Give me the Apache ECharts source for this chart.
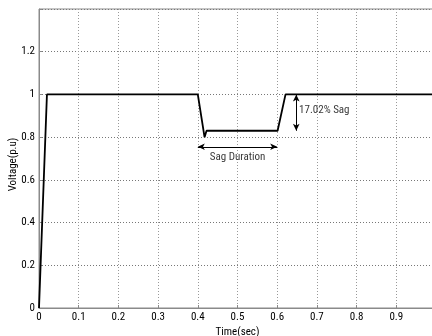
<!DOCTYPE html>
<html>
<head>
<meta charset="utf-8">
<script src="https://cdn.jsdelivr.net/npm/echarts@6/dist/echarts.min.js"></script>
<style>
  html, body { margin: 0; padding: 0; background: #fff; }
  #chart { width: 432px; height: 336px; }
</style>
</head>
<body>
<div id="chart"></div>
<script>
// voltage waveform (time in sec, voltage in p.u)
var timeSec = [0, 0.02, 0.4, 0.417, 0.422, 0.601, 0.621, 1];
var voltage = [0, 1, 1, 0.80, 0.83, 0.83, 1, 1];

// annotations
var sagArrowTime = 0.648;
var sagArrowV = [1, 0.83];
var sagLabel = '17.02% Sag';
var sagLabelPos = [0.655, 0.925];
var durationTime = [0.4, 0.6];
var durationV = 0.755;
var durationLabel = 'Sag Duration';
var durationLabelPos = [0.5, 0.705];

var font = 'Roboto Condensed, Liberation Sans, Arial, sans-serif';

var myChart = echarts.init(document.getElementById('chart'));
myChart.setOption({
    animation: false,
    grid: {
        left: 39, right: -4, top: 9, bottom: 28,
        outerBoundsMode: 'none',
        containLabel: false,
        show: true, borderColor: '#8a8a8a', borderWidth: 1
    },
    xAxis: {
        type: 'value',
        min: 0, max: 1, interval: 0.1,
        name: 'Time(sec)',
        nameLocation: 'middle',
        nameGap: 19,
        nameMoveOverlap: false,
        nameTextStyle: { fontFamily: font, fontSize: 11, color: '#000' },
        axisLine: { lineStyle: { color: '#8a8a8a' } },
        axisTick: { inside: true, length: 3, lineStyle: { color: '#8a8a8a' } },
        axisLabel: {
            fontFamily: font, fontSize: 11, color: '#000', margin: 4,
            formatter: function (v) { return String(+v.toFixed(1)); }
        },
        splitLine: { show: true, lineStyle: { color: '#999', type: [1, 2], width: 1 } }
    },
    yAxis: {
        type: 'value',
        min: 0, max: 1.4, interval: 0.2,
        name: 'Voltage(p.u)',
        nameLocation: 'middle',
        nameRotate: 90,
        nameGap: 20,
        nameMoveOverlap: false,
        nameTextStyle: { fontFamily: font, fontSize: 11, color: '#000', padding: [0, 12, 0, 0] },
        axisLine: { show: true, lineStyle: { color: '#8a8a8a' } },
        axisTick: { show: true, inside: true, length: 3, lineStyle: { color: '#8a8a8a' } },
        axisLabel: {
            fontFamily: font, fontSize: 11, color: '#000', margin: 4,
            formatter: function (v) { return v > 1.3 ? '' : String(+v.toFixed(1)); }
        },
        splitLine: { show: true, lineStyle: { color: '#777', type: [1, 2], width: 1 } }
    },
    series: [
        {
            name: 'Voltage',
            type: 'line',
            symbol: 'none',
            lineStyle: { color: '#000', width: 1.8 },
            data: timeSec.map(function (t, i) { return [t, voltage[i]]; }),
            markLine: {
                silent: true,
                symbol: ['arrow', 'arrow'],
                symbolSize: [5, 7],
                label: { show: false },
                lineStyle: { color: '#000', width: 1, type: 'solid' },
                data: [
                    [{ coord: [sagArrowTime, sagArrowV[0]] }, { coord: [sagArrowTime, sagArrowV[1]] }],
                    [{ coord: [durationTime[0], durationV] }, { coord: [durationTime[1], durationV] }]
                ]
            }
        },
        {
            name: 'labels',
            type: 'scatter',
            symbolSize: 0,
            silent: true,
            data: [
                { value: sagLabelPos, label: { position: 'right', distance: 0, formatter: sagLabel } },
                { value: durationLabelPos, label: { position: 'inside', formatter: durationLabel } }
            ],
            label: { show: true, fontFamily: font, fontSize: 11, color: '#000' }
        }
    ]
});
</script>
</body>
</html>
